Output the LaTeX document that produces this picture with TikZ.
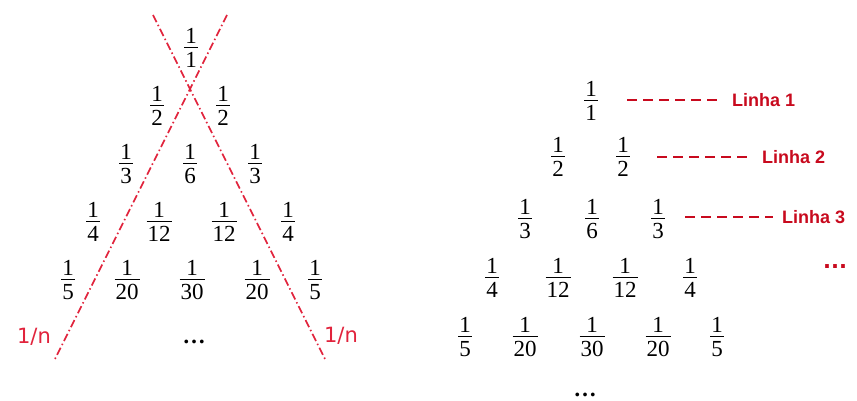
\documentclass[tikz,border=0pt]{standalone}
\usepackage{fix-cm}
\usepackage{amsmath}
\usepackage{fontspec}
\setmainfont{Liberation Serif}
\newfontfamily\lsans{Liberation Sans}
\newfontfamily\dsans{DejaVu Sans}
\definecolor{xred}{RGB}{225,35,60}
\definecolor{lred}{RGB}{200,10,30}
\newcommand{\myfr}[2]{$\genfrac{}{}{1.2pt}{1}{\mbox{\rule[-2.5pt]{0pt}{1pt}#1}}{\mbox{\rule{0pt}{18.5pt}\kern1pt#2\kern1pt}}$}
\tikzset{
  fr/.style={inner sep=0pt, font=\fontsize{23}{27}\selectfont},
  xline/.style={draw=xred, line width=1.6pt, dash pattern=on 8pt off 3pt on 1.5pt off 3pt},
  nlab/.style={inner sep=0pt, text=xred, font=\dsans\fontsize{21}{24}\selectfont},
  linha/.style={inner sep=0pt, anchor=west, text=lred, font=\lsans\bfseries\fontsize{18}{21}\selectfont},
  ldash/.style={draw=lred, line width=2pt, dash pattern=on 10pt off 6pt},
  dots/.style={inner sep=0pt, font=\bfseries\fontsize{23}{27}\selectfont}
}
\begin{document}
\begin{tikzpicture}[x=1pt,y=-1pt]
\useasboundingbox (0,0) rectangle (857,401);
% left triangle
\node[fr] (a11) at (191,48) {\myfr{1}{1}};
\node[fr] (a21) at (157,106) {\myfr{1}{2}};
\node[fr] (a22) at (223,106) {\myfr{1}{2}};
\node[fr] (a31) at (126,164) {\myfr{1}{3}};
\node[fr] (a32) at (190,164) {\myfr{1}{6}};
\node[fr] (a33) at (255,164) {\myfr{1}{3}};
\node[fr] (a41) at (93,222) {\myfr{1}{4}};
\node[fr] (a42) at (159,222) {\myfr{1}{12}};
\node[fr] (a43) at (224,222) {\myfr{1}{12}};
\node[fr] (a44) at (288,222) {\myfr{1}{4}};
\node[fr] (a51) at (68,280) {\myfr{1}{5}};
\node[fr] (a52) at (127,280) {\myfr{1}{20}};
\node[fr] (a53) at (192,280) {\myfr{1}{30}};
\node[fr] (a54) at (257,280) {\myfr{1}{20}};
\node[fr] (a55) at (315,280) {\myfr{1}{5}};
\node[dots] (adots) at (194,342) {\ldots};
% red crossing lines
\coordinate (p1) at (153,15);
\coordinate (q1) at (325,359);
\coordinate (p2) at (227,15);
\coordinate (q2) at (55,359);
\draw[xline] (p1) -- (q1);
\draw[xline] (p2) -- (q2);
\node[nlab] (nl) at (34,337) {1/n};
\node[nlab] (nr) at (341,336) {1/n};
% right triangle
\node[fr] (b11) at (591,101) {\myfr{1}{1}};
\node[fr] (b21) at (558,157) {\myfr{1}{2}};
\node[fr] (b22) at (623,157) {\myfr{1}{2}};
\node[fr] (b31) at (525,219) {\myfr{1}{3}};
\node[fr] (b32) at (592,219) {\myfr{1}{6}};
\node[fr] (b33) at (658,219) {\myfr{1}{3}};
\node[fr] (b41) at (492,278) {\myfr{1}{4}};
\node[fr] (b42) at (558,278) {\myfr{1}{12}};
\node[fr] (b43) at (625,278) {\myfr{1}{12}};
\node[fr] (b44) at (690,278) {\myfr{1}{4}};
\node[fr] (b51) at (465,337) {\myfr{1}{5}};
\node[fr] (b52) at (525,337) {\myfr{1}{20}};
\node[fr] (b53) at (592,337) {\myfr{1}{30}};
\node[fr] (b54) at (658,337) {\myfr{1}{20}};
\node[fr] (b55) at (717,337) {\myfr{1}{5}};
\node[dots] (bdots) at (585,395) {\ldots};
% Linha labels
\node[linha] (L1) at (732,100) {Linha 1};
\node[linha] (L2) at (762,157) {Linha 2};
\node[linha] (L3) at (782,217) {Linha 3};
\coordinate (d1) at (627,100);
\coordinate (d2) at (657,157);
\coordinate (d3) at (685,217);
\draw[ldash] (d1) -- ([xshift=-10pt]L1.west);
\draw[ldash] (d2) -- ([xshift=-10pt]L2.west);
\draw[ldash] (d3) -- ([xshift=-9pt]L3.west);
\node[inner sep=0pt, text=lred, font=\dsans\bfseries\fontsize{21}{24}\selectfont] (rdots) at (835,267) {...};
\end{tikzpicture}
\end{document}
